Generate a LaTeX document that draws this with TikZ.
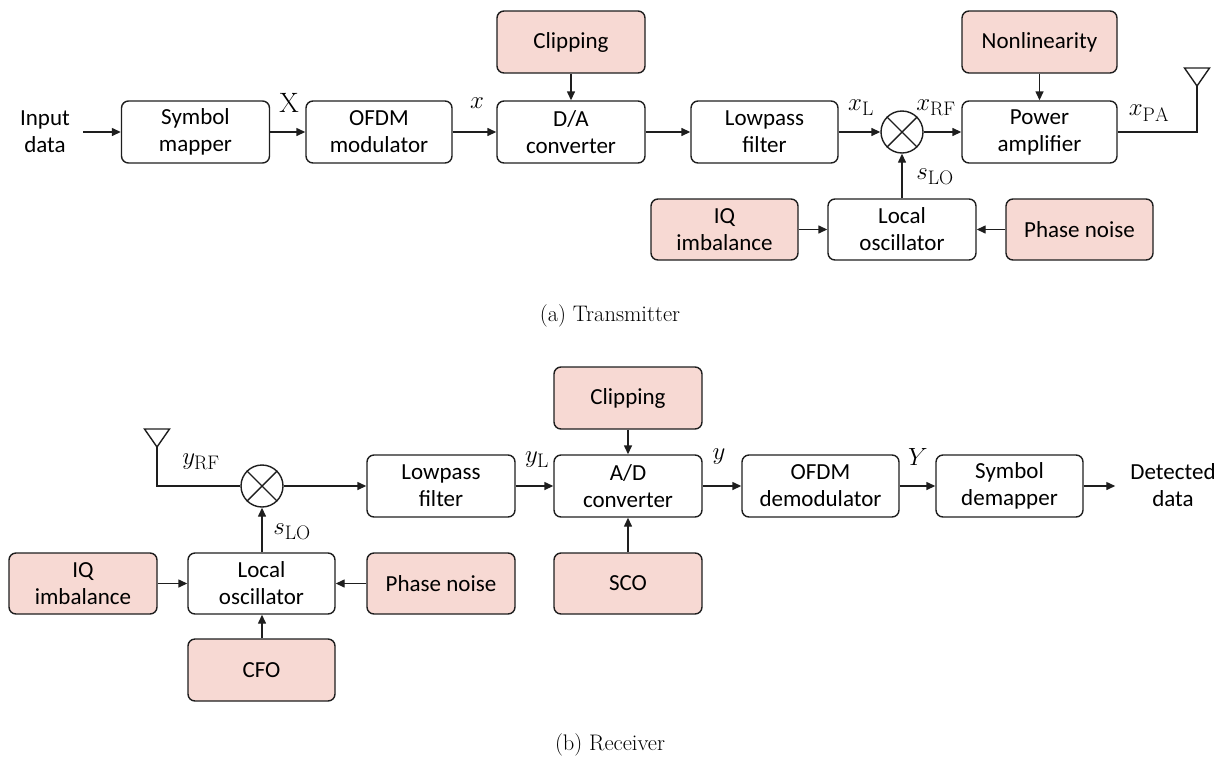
\documentclass[tikz,border=0pt]{standalone}
\usepackage{fontspec}
\newfontfamily\carlito{Carlito}
\usetikzlibrary{arrows.meta}
\definecolor{pinkfill}{RGB}{247,217,211}
\definecolor{edge}{RGB}{30,30,30}
\tikzset{
  blk/.style={draw=edge, line width=1.4pt, rounded corners=7pt, minimum height=62pt,
    minimum width=148pt, align=center, inner sep=0pt, text=black,
    font=\carlito\fontsize{23}{27}\selectfont},
  imp/.style={blk, fill=pinkfill},
  plain/.style={align=center, inner sep=0pt, font=\carlito\fontsize{23}{27}\selectfont},
  mix/.style={draw=edge, line width=1.4pt, circle, minimum size=42pt, inner sep=0pt},
  lbl/.style={inner sep=0pt, font=\fontsize{28}{32}\selectfont},
  captxt/.style={inner sep=0pt, font=\fontsize{22.5}{27}\selectfont},
  conn/.style={draw=edge, line width=1.4pt, -{Triangle[length=9pt,width=8pt]}},
  wire/.style={draw=edge, line width=1.4pt},
}
\newcommand{\mixcross}[1]{\draw[wire] (#1.45) -- (#1.225); \draw[wire] (#1.135) -- (#1.315);}
\begin{document}
\begin{tikzpicture}[x=1pt,y=-1pt]
\useasboundingbox (0,0) rectangle (1223,761);
% ---------------- Transmitter ----------------
\node[plain] (indata) at (45,132) {Input\\data};
\node[blk] (sm) at (195.5,132) {Symbol\\mapper};
\node[blk, minimum width=146pt] (om) at (379,132) {OFDM\\modulator};
\node[blk] (da) at (571,132) {D/A\\converter};
\node[imp] (clipT) at (571,42) {Clipping};
\node[blk, minimum width=147pt] (lpT) at (764.5,132) {Lowpass\\filter};
\node[mix] (mixT) at (902,132) {};
\mixcross{mixT}
\node[blk, minimum width=155pt] (pa) at (1039.5,132) {Power\\amplifier};
\node[imp, minimum width=155pt] (nl) at (1039.5,42) {Nonlinearity};
\node[blk, minimum height=61pt] (loT) at (902,229.5) {Local\\oscillator};
\node[imp, minimum width=147pt, minimum height=61pt] (iqT) at (724.5,229.5) {IQ\\imbalance};
\node[imp, minimum width=147pt, minimum height=61pt] (pnT) at (1079.5,229.5) {Phase noise};
\coordinate (antT) at (1197,86);
\coordinate (antTc) at (1197,132);
\draw[wire] (antT) -- (1184.5,68) -- (1209.5,68) -- cycle;

\draw[conn] ([xshift=13pt]indata.east) -- (sm.west);
\draw[conn] (sm) -- (om);
\draw[conn] (om) -- (da);
\draw[conn] (da) -- (lpT);
\draw[conn] (lpT) -- (mixT);
\draw[conn] (mixT) -- (pa);
\draw[conn] (clipT) -- (da);
\draw[conn] (nl) -- (pa);
\draw[conn] (loT) -- (mixT);
\draw[conn] (iqT) -- (loT);
\draw[conn] (pnT) -- (loT);
\draw[wire] (pa.east) -- (antTc) -- (antT);

\node[lbl] (lX) at (289,103) {$\mathrm{X}$};
\node[lbl] (lx) at (477,103) {$x$};
\node[lbl] (lxL) at (861,108) {$x_{\mathrm{L}}$};
\node[lbl] (lxRF) at (936,108) {$x_{\mathrm{RF}}$};
\node[lbl] (lxPA) at (1149,113) {$x_{\mathrm{PA}}$};
\node[lbl] (lsT) at (935,177) {$s_{\mathrm{LO}}$};
\node[captxt] (capa) at (610,316) {(a) Transmitter};

% ---------------- Receiver ----------------
\coordinate (antR) at (157,447);
\coordinate (antRc) at (157,486);
\draw[wire] (antR) -- (144.5,429) -- (169.5,429) -- cycle;
\node[mix] (mixR) at (262,486) {};
\mixcross{mixR}
\node[blk] (lpR) at (441,486) {Lowpass\\filter};
\node[blk] (ad) at (628,486) {A/D\\converter};
\node[imp] (clipR) at (628,398) {Clipping};
\node[imp, minimum height=61pt] (sco) at (628,583.5) {SCO};
\node[blk, minimum width=157pt] (od) at (820.5,486) {OFDM\\demodulator};
\node[blk, minimum width=147pt] (sd) at (1009.5,486) {Symbol\\demapper};
\node[plain] (detdata) at (1173,485) {Detected\\data};
\node[blk, minimum width=147pt, minimum height=61pt] (loR) at (261.5,583.5) {Local\\oscillator};
\node[imp, minimum height=61pt] (iqR) at (83,583.5) {IQ\\imbalance};
\node[imp, minimum height=61pt] (pnR) at (441,583.5) {Phase noise};
\node[imp, minimum width=147pt] (cfo) at (261.5,670) {CFO};

\draw[wire] (antR) -- (antRc) -- (mixR.west);
\draw[conn] (mixR) -- (lpR);
\draw[conn] (lpR) -- (ad);
\draw[conn] (ad) -- (od);
\draw[conn] (od) -- (sd);
\draw[conn] (sd.east) -- ([xshift=-15pt]detdata.west |- sd.east);
\draw[conn] (clipR) -- (ad);
\draw[conn] (sco) -- (ad);
\draw[conn] (loR.north -| mixR.south) -- (mixR.south);
\draw[conn] (iqR) -- (loR);
\draw[conn] (pnR) -- (loR);
\draw[conn] (cfo.north -| mixR.south) -- (loR.south -| mixR.south);

\node[lbl] (lyRF) at (201,462) {$y_{\mathrm{RF}}$};
\node[lbl] (lyL) at (537,460) {$y_{\mathrm{L}}$};
\node[lbl] (ly) at (719,457) {$y$};
\node[lbl] (lY) at (918,457) {$Y$};
\node[lbl] (lsR) at (292,532) {$s_{\mathrm{LO}}$};
\node[captxt] (capb) at (610,745) {(b) Receiver};
\end{tikzpicture}
\end{document}
